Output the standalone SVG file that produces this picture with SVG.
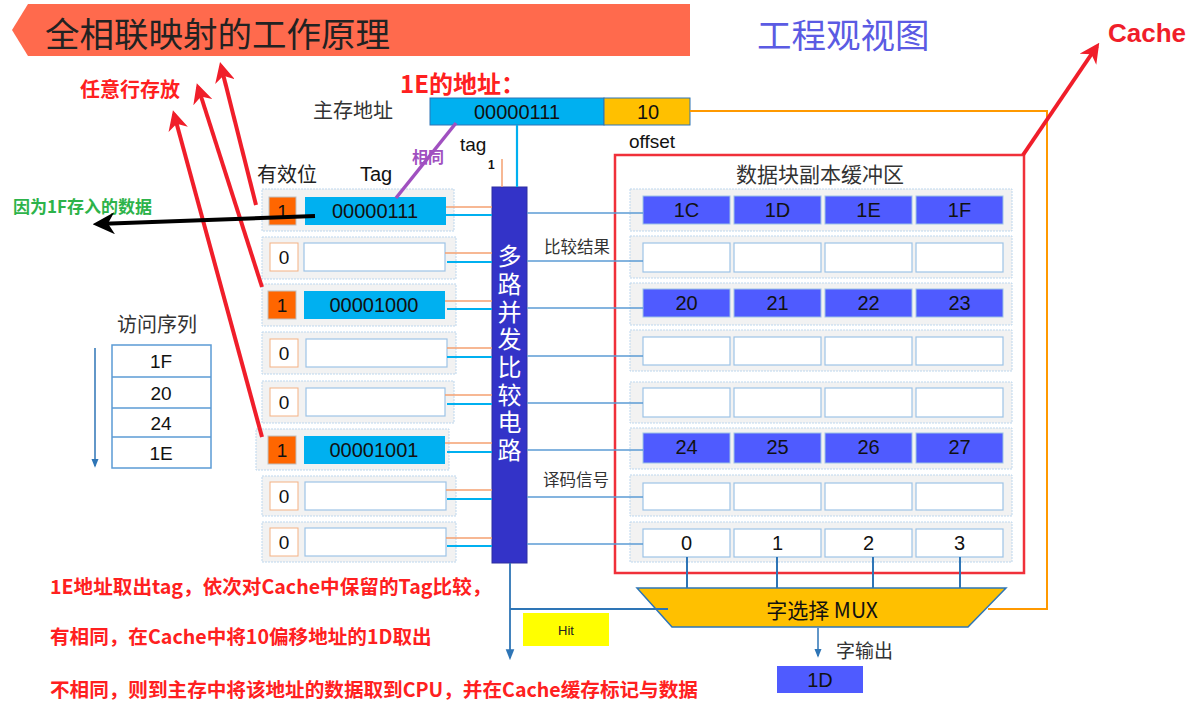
<svg xmlns="http://www.w3.org/2000/svg" width="1200" height="713" viewBox="0 0 1200 713">
<style>
.cjk{font-family:"Noto Sans CJK SC","Noto Sans",sans-serif}
.lat{font-family:"Liberation Sans","Noto Sans CJK SC",sans-serif}
.outer{fill:#F2F2F2;stroke:#BDD7EE;stroke-width:1;stroke-dasharray:2 1}
.vOn{fill:#FF6600;stroke:#BFBFBF;stroke-width:1}
.vOff{fill:#FFFFFF;stroke:#F4B183;stroke-width:1}
.tOn{fill:#00B0F0;stroke:none}
.tOff{fill:#FFFFFF;stroke:#9DC3E6;stroke-width:1.2}
.cOn{fill:#4F5BFF;stroke:#9DC3E6;stroke-width:1}
.cOff{fill:#FFFFFF;stroke:#9DC3E6;stroke-width:1.2}
.t20{font-size:20px;fill:#111;text-anchor:middle;dominant-baseline:central}
.t19{font-size:19px;fill:#111;text-anchor:middle;dominant-baseline:central}
.oline{stroke:#F4A070;stroke-width:1.5;fill:none}
.bline{stroke:#00B0F0;stroke-width:2.2;fill:none}
.rline{stroke:#5B9BD5;stroke-width:1.5;fill:none}
.redarrow{stroke:#F01E2A;stroke-width:4;fill:none;marker-end:url(#redHead)}
.red{fill:#FF2020;font-weight:bold}
</style>
<defs>
<marker id="redHead" viewBox="0 0 10 10" refX="8" refY="5" markerWidth="5" markerHeight="5" orient="auto" markerUnits="strokeWidth"><path d="M0,0 L10,5 L0,10 L3,5 z" fill="#F01E2A"/></marker>
<marker id="blackHead" viewBox="0 0 10 10" refX="8" refY="5" markerWidth="5.5" markerHeight="5.5" orient="auto" markerUnits="strokeWidth"><path d="M0,0 L10,5 L0,10 L3,5 z" fill="#000"/></marker>
<marker id="blueHead" viewBox="0 0 10 10" refX="8" refY="5" markerWidth="6" markerHeight="6" orient="auto" markerUnits="strokeWidth"><path d="M0,1 L10,5 L0,9 z" fill="#2E75B6"/></marker>
</defs>

<!-- Title banner -->
<g id="title">
<polygon points="12,30 28,4 690,4 690,56 28,56" fill="#FF6A4D"/>
<text x="45" y="32" class="cjk" font-size="34.5" fill="#222" dominant-baseline="central">全相联映射的工作原理</text>
</g>
<g id="view-title"><text x="757" y="33" class="cjk" font-size="34.5" fill="#5B5BE3" dominant-baseline="central">工程观视图</text></g>
<g id="cache-label"><text x="1108" y="33" class="lat" font-size="26" font-weight="bold" fill="#F01E2A" dominant-baseline="central">Cache</text></g>

<!-- Address -->
<g id="addr-title"><text x="400" y="82" class="cjk red" font-size="24" dominant-baseline="central">1E的地址：</text></g>
<g id="addr-label"><text x="313" y="109" class="cjk" font-size="20" fill="#333" dominant-baseline="central">主存地址</text></g>
<g id="addr">
<rect x="430" y="98" width="174" height="27" fill="#00B0F0" stroke="#2E75B6" stroke-width="1"/>
<rect x="604" y="98" width="86" height="27" fill="#FFC000" stroke="#2E75B6" stroke-width="1"/>
<text x="517" y="112" class="lat t20">00000111</text>
<text x="648" y="112" class="lat t20">10</text>
</g>
<text x="460" y="144" class="lat" font-size="19" fill="#111" dominant-baseline="central">tag</text>
<text x="629" y="141" class="lat" font-size="19" fill="#111" dominant-baseline="central">offset</text>
<text x="488" y="165" class="lat" font-size="12" font-weight="bold" fill="#111" dominant-baseline="central">1</text>
<text x="412" y="156" class="cjk" font-size="16" font-weight="bold" fill="#A050C0" dominant-baseline="central">相同</text>

<!-- headers -->
<text x="257" y="173" class="cjk" font-size="20" fill="#222" dominant-baseline="central">有效位</text>
<text x="360" y="174" class="lat" font-size="20" fill="#111" dominant-baseline="central">Tag</text>

<!-- Tag rows -->
<g id="tagrow1"><rect class="outer" x="262" y="189" width="192" height="42"/><rect class="vOn" x="269" y="197" width="27" height="28"/><text x="282.5" y="211" class="lat t19">1</text><rect class="tOn" x="305" y="197" width="141" height="28"/><text x="375" y="211" class="lat t20">00000111</text></g>
<g id="tagrow2"><rect class="outer" x="262" y="237" width="194" height="42"/><rect class="vOff" x="270" y="243" width="28" height="28"/><text x="284" y="257" class="lat t19">0</text><rect class="tOff" x="304" y="243" width="141" height="28"/></g>
<g id="tagrow3"><rect class="outer" x="262" y="284" width="194" height="42"/><rect class="vOn" x="268" y="291" width="28" height="28"/><text x="282" y="305" class="lat t19">1</text><rect class="tOn" x="304" y="291" width="141" height="28"/><text x="374" y="305" class="lat t20">00001000</text></g>
<g id="tagrow4"><rect class="outer" x="262" y="332" width="194" height="42"/><rect class="vOff" x="270" y="339" width="28" height="28"/><text x="284" y="353" class="lat t19">0</text><rect class="tOff" x="306" y="339" width="141" height="28"/></g>
<g id="tagrow5"><rect class="outer" x="262" y="381" width="192" height="42"/><rect class="vOff" x="270" y="388" width="28" height="28"/><text x="284" y="402" class="lat t19">0</text><rect class="tOff" x="306" y="388" width="139" height="28"/></g>
<g id="tagrow6"><rect class="outer" x="256" y="429" width="193" height="41"/><rect class="vOn" x="268" y="436" width="28" height="28"/><text x="282" y="450" class="lat t19">1</text><rect class="tOn" x="304" y="436" width="141" height="28"/><text x="374" y="450" class="lat t20">00001001</text></g>
<g id="tagrow7"><rect class="outer" x="262" y="476" width="194" height="40"/><rect class="vOff" x="270" y="482" width="28" height="28"/><text x="284" y="496" class="lat t19">0</text><rect class="tOff" x="305" y="482" width="141" height="28"/></g>
<g id="tagrow8"><rect class="outer" x="262" y="522" width="194" height="40"/><rect class="vOff" x="270" y="528" width="28" height="28"/><text x="284" y="542" class="lat t19">0</text><rect class="tOff" x="305" y="528" width="141" height="28"/></g>

<!-- Comparator -->
<g id="comparator">
<rect x="492" y="187" width="35" height="376" fill="#3333C8" stroke="#2E2EA0" stroke-width="1"/>
<text x="509.5" y="244" class="cjk" font-size="24" fill="#FFFFFF" style="writing-mode:vertical-rl;text-orientation:upright;letter-spacing:3.7px">多路并发比较电路</text>
</g>
<text x="544" y="246" class="cjk" font-size="16.5" fill="#333" dominant-baseline="central">比较结果</text>
<text x="543" y="479" class="cjk" font-size="16.5" fill="#333" dominant-baseline="central">译码信号</text>

<!-- Cache data area -->
<g id="cache-box">
<rect x="615" y="155" width="409" height="418" fill="none" stroke="#F0303A" stroke-width="2.5"/>
<text x="820" y="173" class="cjk" font-size="21" fill="#333" text-anchor="middle" dominant-baseline="central">数据块副本缓冲区</text>
</g>
<g id="datarow1"><rect class="outer" x="630" y="189" width="382" height="42"/><rect class="cOn" x="643" y="196" width="87" height="28"/><rect class="cOn" x="734" y="196" width="87" height="28"/><rect class="cOn" x="825" y="196" width="87" height="28"/><rect class="cOn" x="916" y="196" width="87" height="28"/><text x="686.5" y="210" class="lat t20">1C</text><text x="777.5" y="210" class="lat t20">1D</text><text x="868.5" y="210" class="lat t20">1E</text><text x="959.5" y="210" class="lat t20">1F</text></g>
<g id="datarow2"><rect class="outer" x="630" y="236" width="382" height="42"/><rect class="cOff" x="643" y="243" width="87" height="29"/><rect class="cOff" x="734" y="243" width="87" height="29"/><rect class="cOff" x="825" y="243" width="87" height="29"/><rect class="cOff" x="916" y="243" width="87" height="29"/></g>
<g id="datarow3"><rect class="outer" x="630" y="283" width="382" height="42"/><rect class="cOn" x="643" y="289" width="87" height="28"/><rect class="cOn" x="734" y="289" width="87" height="28"/><rect class="cOn" x="825" y="289" width="87" height="28"/><rect class="cOn" x="916" y="289" width="87" height="28"/><text x="686.5" y="303" class="lat t20">20</text><text x="777.5" y="303" class="lat t20">21</text><text x="868.5" y="303" class="lat t20">22</text><text x="959.5" y="303" class="lat t20">23</text></g>
<g id="datarow4"><rect class="outer" x="630" y="330" width="382" height="41"/><rect class="cOff" x="643" y="337" width="87" height="28"/><rect class="cOff" x="734" y="337" width="87" height="28"/><rect class="cOff" x="825" y="337" width="87" height="28"/><rect class="cOff" x="916" y="337" width="87" height="28"/></g>
<g id="datarow5"><rect class="outer" x="630" y="382" width="382" height="41"/><rect class="cOff" x="643" y="388" width="87" height="29"/><rect class="cOff" x="734" y="388" width="87" height="29"/><rect class="cOff" x="825" y="388" width="87" height="29"/><rect class="cOff" x="916" y="388" width="87" height="29"/></g>
<g id="datarow6"><rect class="outer" x="630" y="428" width="382" height="41"/><rect class="cOn" x="643" y="433" width="87" height="30"/><rect class="cOn" x="734" y="433" width="87" height="30"/><rect class="cOn" x="825" y="433" width="87" height="30"/><rect class="cOn" x="916" y="433" width="87" height="30"/><text x="686.5" y="447" class="lat t20">24</text><text x="777.5" y="447" class="lat t20">25</text><text x="868.5" y="447" class="lat t20">26</text><text x="959.5" y="447" class="lat t20">27</text></g>
<g id="datarow7"><rect class="outer" x="630" y="475" width="382" height="41"/><rect class="cOff" x="643" y="483" width="87" height="27"/><rect class="cOff" x="734" y="483" width="87" height="27"/><rect class="cOff" x="825" y="483" width="87" height="27"/><rect class="cOff" x="916" y="483" width="87" height="27"/></g>
<g id="datarow8"><rect class="outer" x="630" y="522" width="382" height="40"/><rect class="cOff" x="643" y="529" width="87" height="28"/><rect class="cOff" x="734" y="529" width="87" height="28"/><rect class="cOff" x="825" y="529" width="87" height="28"/><rect class="cOff" x="916" y="529" width="87" height="28"/><text x="686.5" y="543" class="lat t20">0</text><text x="777.5" y="543" class="lat t20">1</text><text x="868.5" y="543" class="lat t20">2</text><text x="959.5" y="543" class="lat t20">3</text></g>

<!-- MUX -->
<g id="mux">
<polygon points="637,588 1006,588 968,627 672,627" fill="#FFC000" stroke="#2E75B6" stroke-width="1.5"/>
<text x="822" y="609" class="cjk" font-size="21" fill="#111" text-anchor="middle" dominant-baseline="central">字选择 MUX</text>
</g>
<g id="hit"><rect x="523" y="613" width="86" height="33" fill="#FFFF00"/><text x="566" y="630" class="lat" font-size="13" fill="#222" text-anchor="middle" dominant-baseline="central">Hit</text></g>
<g id="out-label"><text x="836" y="649" class="cjk" font-size="19" fill="#333" dominant-baseline="central">字输出</text></g>
<g id="out"><rect x="777" y="666" width="86" height="27" fill="#4F5BFF"/><text x="820" y="680" class="lat t20">1D</text></g>

<!-- Access sequence -->
<g id="seq">
<text x="117" y="323" class="cjk" font-size="20" fill="#333" dominant-baseline="central">访问序列</text>
<rect x="112" y="345" width="99" height="123" fill="#FFF" stroke="#5B9BD5" stroke-width="1.5"/>
<line x1="112" y1="377" x2="211" y2="377" stroke="#5B9BD5" stroke-width="1.5"/>
<line x1="112" y1="408" x2="211" y2="408" stroke="#5B9BD5" stroke-width="1.5"/>
<line x1="112" y1="437" x2="211" y2="437" stroke="#5B9BD5" stroke-width="1.5"/>
<text x="161" y="361" class="lat t19">1F</text><text x="161" y="393" class="lat t19">20</text><text x="161" y="423" class="lat t19">24</text><text x="161" y="453" class="lat t19">1E</text>
</g>

<!-- Annotations -->
<text x="80" y="88" class="cjk red" font-size="20" dominant-baseline="central">任意行存放</text>
<text x="13" y="205" class="cjk" font-size="17" font-weight="bold" fill="#2DB34A" dominant-baseline="central">因为1F存入的数据</text>
<g id="notes" class="cjk red" font-size="19.6">
<text x="50" y="585" dominant-baseline="central">1E地址取出tag，依次对Cache中保留的Tag比较，</text>
<text x="50" y="635" dominant-baseline="central">有相同，在Cache中将10偏移地址的1D取出</text>
<text x="50" y="688" dominant-baseline="central">不相同，则到主存中将该地址的数据取到CPU，并在Cache缓存标记与数据</text>
</g>

<!-- Connectors -->
<g id="connectors">
<line x1="517" y1="125" x2="517" y2="187" class="bline" stroke-width="2"/>
<line x1="502" y1="159" x2="502" y2="187" class="oline"/>
<line x1="456" y1="123" x2="396" y2="198" stroke="#A050C0" stroke-width="3.5"/>
<polyline points="690,111 1047,111 1047,609 988,609" fill="none" stroke="#FF9900" stroke-width="2"/>
<g>
<line class="oline" x1="446" y1="207" x2="492" y2="207"/><line class="bline" x1="446" y1="215" x2="492" y2="215"/>
<line class="oline" x1="445" y1="253" x2="492" y2="253"/><line class="bline" x1="447" y1="262" x2="492" y2="262"/>
<line class="oline" x1="445" y1="301" x2="492" y2="301"/><line class="bline" x1="447" y1="309" x2="492" y2="309"/>
<line class="oline" x1="447" y1="348" x2="492" y2="348"/><line class="bline" x1="447" y1="357" x2="492" y2="357"/>
<line class="oline" x1="445" y1="395" x2="492" y2="395"/><line class="bline" x1="447" y1="404" x2="492" y2="404"/>
<line class="oline" x1="445" y1="443" x2="492" y2="443"/><line class="bline" x1="447" y1="452" x2="492" y2="452"/>
<line class="oline" x1="446" y1="490" x2="492" y2="490"/><line class="bline" x1="447" y1="499" x2="492" y2="499"/>
<line class="oline" x1="446" y1="538" x2="492" y2="538"/><line class="bline" x1="447" y1="546" x2="492" y2="546"/>
</g>
<g>
<line class="rline" x1="527" y1="213" x2="643" y2="213"/>
<line class="rline" x1="527" y1="261" x2="643" y2="261"/>
<line class="rline" x1="527" y1="308" x2="643" y2="308"/>
<line class="rline" x1="527" y1="356" x2="643" y2="356"/>
<line class="rline" x1="527" y1="403" x2="643" y2="403"/>
<line class="rline" x1="527" y1="450" x2="643" y2="450"/>
<line class="rline" x1="527" y1="497" x2="643" y2="497"/>
<line class="rline" x1="527" y1="544" x2="643" y2="544"/>
</g>
<g stroke="#2E75B6" stroke-width="2">
<line x1="687" y1="557" x2="687" y2="588"/><line x1="777" y1="557" x2="777" y2="588"/><line x1="873" y1="557" x2="873" y2="588"/><line x1="960" y1="557" x2="960" y2="588"/>
</g>
<line x1="510" y1="563" x2="510" y2="658" stroke="#2E75B6" stroke-width="1.8" marker-end="url(#blueHead)"/>
<line x1="510" y1="609" x2="668" y2="609" stroke="#2E75B6" stroke-width="1.8"/>
<line x1="818" y1="628" x2="818" y2="656" stroke="#2E75B6" stroke-width="1.5" marker-end="url(#blueHead)"/>
<line x1="95" y1="348" x2="95" y2="466" stroke="#2E75B6" stroke-width="1.5" marker-end="url(#blueHead)"/>
<line class="redarrow" x1="256" y1="205" x2="221" y2="66"/>
<line class="redarrow" x1="262" y1="287" x2="198" y2="87"/>
<line class="redarrow" x1="262" y1="437" x2="174" y2="114"/>
<line class="redarrow" x1="1023" y1="155" x2="1097" y2="46"/>
<line x1="315" y1="216" x2="97" y2="224" stroke="#000" stroke-width="4" marker-end="url(#blackHead)"/>
</g>
</svg>
